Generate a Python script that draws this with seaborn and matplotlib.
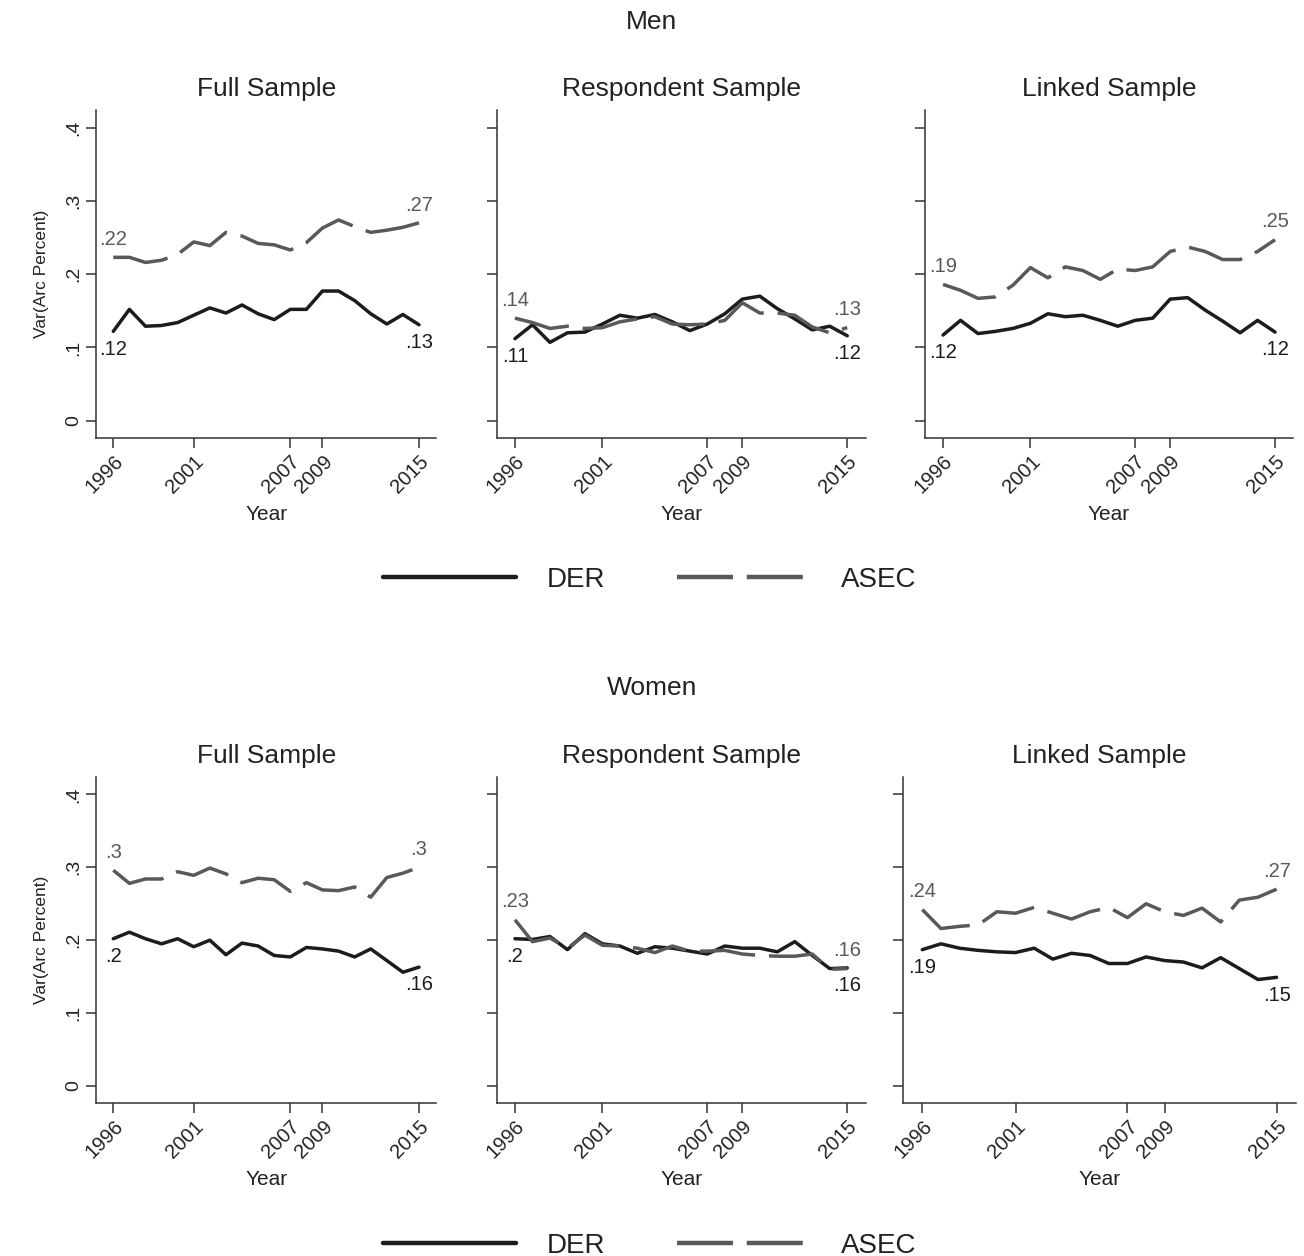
import numpy as np
import pandas as pd
import matplotlib
matplotlib.use('Agg')
import matplotlib.pyplot as plt
from matplotlib.lines import Line2D
import seaborn as sns

# ---------------- data ----------------
years = list(range(1996, 2016))
xtick_years = [1996, 2001, 2007, 2009, 2015]
yticks = [0, 0.1, 0.2, 0.3, 0.4]
ytick_labels = ['0', '.1', '.2', '.3', '.4']
samples = ['Full Sample', 'Respondent Sample', 'Linked Sample']
groups = ['Men', 'Women']
series = ['DER', 'ASEC']

men_full_der = [0.122, 0.152, 0.129, 0.130, 0.134, 0.144, 0.154, 0.147, 0.158, 0.146,
                0.138, 0.152, 0.152, 0.177, 0.177, 0.164, 0.146, 0.132, 0.145, 0.131]
men_full_asec = [0.223, 0.223, 0.216, 0.219, 0.227, 0.244, 0.239, 0.257, 0.252, 0.242,
                 0.240, 0.233, 0.243, 0.263, 0.274, 0.265, 0.257, 0.260, 0.264, 0.270]
men_resp_der = [0.112, 0.131, 0.107, 0.120, 0.121, 0.132, 0.144, 0.140, 0.145, 0.135,
                0.123, 0.132, 0.146, 0.166, 0.170, 0.153, 0.139, 0.124, 0.129, 0.116]
men_resp_asec = [0.140, 0.134, 0.126, 0.129, 0.126, 0.127, 0.135, 0.139, 0.142, 0.132,
                 0.131, 0.132, 0.137, 0.161, 0.147, 0.147, 0.144, 0.128, 0.120, 0.127]
men_link_der = [0.117, 0.137, 0.119, 0.122, 0.126, 0.133, 0.146, 0.142, 0.144, 0.137,
                0.129, 0.137, 0.140, 0.166, 0.168, 0.151, 0.136, 0.120, 0.137, 0.121]
men_link_asec = [0.186, 0.178, 0.167, 0.169, 0.185, 0.209, 0.195, 0.210, 0.205, 0.193,
                 0.207, 0.205, 0.210, 0.231, 0.237, 0.231, 0.220, 0.220, 0.231, 0.247]

women_full_der = [0.202, 0.211, 0.202, 0.195, 0.202, 0.191, 0.200, 0.180, 0.196, 0.192,
                  0.179, 0.177, 0.190, 0.188, 0.185, 0.177, 0.188, 0.172, 0.156, 0.163]
women_full_asec = [0.296, 0.278, 0.284, 0.284, 0.294, 0.289, 0.299, 0.291, 0.279, 0.285,
                   0.283, 0.267, 0.279, 0.269, 0.268, 0.273, 0.259, 0.286, 0.292, 0.300]
women_resp_der = [0.202, 0.201, 0.205, 0.187, 0.209, 0.195, 0.192, 0.182, 0.191, 0.189,
                  0.185, 0.181, 0.192, 0.189, 0.189, 0.184, 0.198, 0.179, 0.161, 0.162]
women_resp_asec = [0.228, 0.198, 0.203, 0.189, 0.207, 0.193, 0.192, 0.189, 0.183, 0.192,
                   0.185, 0.185, 0.186, 0.181, 0.179, 0.178, 0.178, 0.181, 0.160, 0.161]
women_link_der = [0.187, 0.195, 0.189, 0.186, 0.184, 0.183, 0.189, 0.174, 0.182, 0.179,
                  0.168, 0.168, 0.177, 0.172, 0.170, 0.162, 0.176, 0.161, 0.146, 0.149]
women_link_asec = [0.242, 0.216, 0.219, 0.221, 0.239, 0.237, 0.245, 0.237, 0.229, 0.239,
                   0.245, 0.231, 0.250, 0.239, 0.234, 0.244, 0.225, 0.255, 0.259, 0.270]

panel_data = {
    ('Men', 'Full Sample'): (men_full_der, men_full_asec),
    ('Men', 'Respondent Sample'): (men_resp_der, men_resp_asec),
    ('Men', 'Linked Sample'): (men_link_der, men_link_asec),
    ('Women', 'Full Sample'): (women_full_der, women_full_asec),
    ('Women', 'Respondent Sample'): (women_resp_der, women_resp_asec),
    ('Women', 'Linked Sample'): (women_link_der, women_link_asec),
}

rows = []
for (grp, samp), (der, asec) in panel_data.items():
    for name, vals in zip(series, (der, asec)):
        for yr, v in zip(years, vals):
            rows.append({'Group': grp, 'Sample': samp, 'Series': name, 'Year': yr, 'Var': v})
df = pd.DataFrame(rows)

# ---------------- style ----------------
sns.set_style('white')
plt.rcParams['font.family'] = ['Liberation Sans', 'DejaVu Sans']
TXT = '#222222'
AX = '#333333'
palette = {'DER': '#1c1c1c', 'ASEC': '#595959'}
dashes = {'DER': '', 'ASEC': (16, 4)}


def fmt(v):
    s = f"{round(v, 2):.2f}".rstrip('0').rstrip('.')
    return s[1:] if s.startswith('0') else s


W, H = 1304, 1256
fig = plt.figure(figsize=(W / 100, H / 100), dpi=100)
fig.patch.set_facecolor('white')

# panel boxes in pixels: (left, top, width, height)
row_box = {'Men': (110, 328), 'Women': (777, 326)}
col_box = {
    'Men': [(96.4, 339.5), (496.6, 369), (924.7, 368.7)],
    'Women': [(96.4, 339.5), (496.6, 369), (902.7, 393.5)],
}
title_y = {'Men': 22, 'Women': 688}
legend_y = {'Men': 580, 'Women': 1246}

for grp in groups:
    top, h = row_box[grp]
    for j, samp in enumerate(samples):
        left, w = col_box[grp][j]
        ax = fig.add_axes([left / W, 1 - (top + h) / H, w / W, h / H])
        sub = df[(df['Group'] == grp) & (df['Sample'] == samp)]
        sns.lineplot(data=sub, x='Year', y='Var', hue='Series', style='Series',
                     hue_order=series, style_order=series, palette=palette,
                     dashes=dashes, linewidth=2.5, legend=False, ax=ax)
        ax.set_xlim(1994.95, 2016.05)
        ax.set_ylim(-0.0235, 0.424)
        ax.set_xticks(xtick_years)
        ax.set_xticklabels([str(y) for y in xtick_years], rotation=45,
                           ha='right', va='top', rotation_mode='anchor',
                           fontsize=14.5, color=TXT)
        ax.set_yticks(yticks)
        if j == 0:
            ax.set_yticklabels(ytick_labels, rotation=90, va='center',
                               fontsize=14, color=TXT)
            ax.set_ylabel('Var(Arc Percent)', fontsize=12.5, color=TXT, labelpad=12)
        else:
            ax.set_yticklabels([])
            ax.set_ylabel('')
        ax.set_xlabel('Year', fontsize=15, color=TXT, labelpad=6)
        ax.set_title(samp, fontsize=19, color=TXT, pad=10)
        for side in ['top', 'right']:
            ax.spines[side].set_visible(False)
        for side in ['left', 'bottom']:
            ax.spines[side].set_color(AX)
            ax.spines[side].set_linewidth(1.1)
        ax.tick_params(axis='both', direction='out', length=7, width=1.1,
                       color=AX, pad=3)
        ax.tick_params(axis='x', bottom=True)
        ax.tick_params(axis='y', left=True)

        # end labels: ASEC above, DER below
        der, asec = panel_data[(grp, samp)]
        for idx in (0, -1):
            ax.annotate(fmt(asec[idx]), (years[idx], asec[idx]), xytext=(0, 6),
                        textcoords='offset points', ha='center', va='bottom',
                        fontsize=14.5, color=palette['ASEC'])
            ax.annotate(fmt(der[idx]), (years[idx], der[idx]), xytext=(0, -6),
                        textcoords='offset points', ha='center', va='top',
                        fontsize=14.5, color=palette['DER'])

    fig.text(0.5, 1 - title_y[grp] / H, grp, ha='center', va='center',
             fontsize=19, color=TXT)
    handles = [Line2D([], [], color=palette['DER'], lw=3.2),
               Line2D([], [], color=palette['ASEC'], lw=3.2, dashes=(12.6, 3.1))]
    fig.legend(handles, series, loc='center',
               bbox_to_anchor=(649.5 / W, 1 - legend_y[grp] / H), ncol=2,
               frameon=False, fontsize=20, handlelength=4.8, handletextpad=1.1,
               columnspacing=2.6, labelcolor=TXT)

fig.savefig('out.png', dpi=100, facecolor='white')
